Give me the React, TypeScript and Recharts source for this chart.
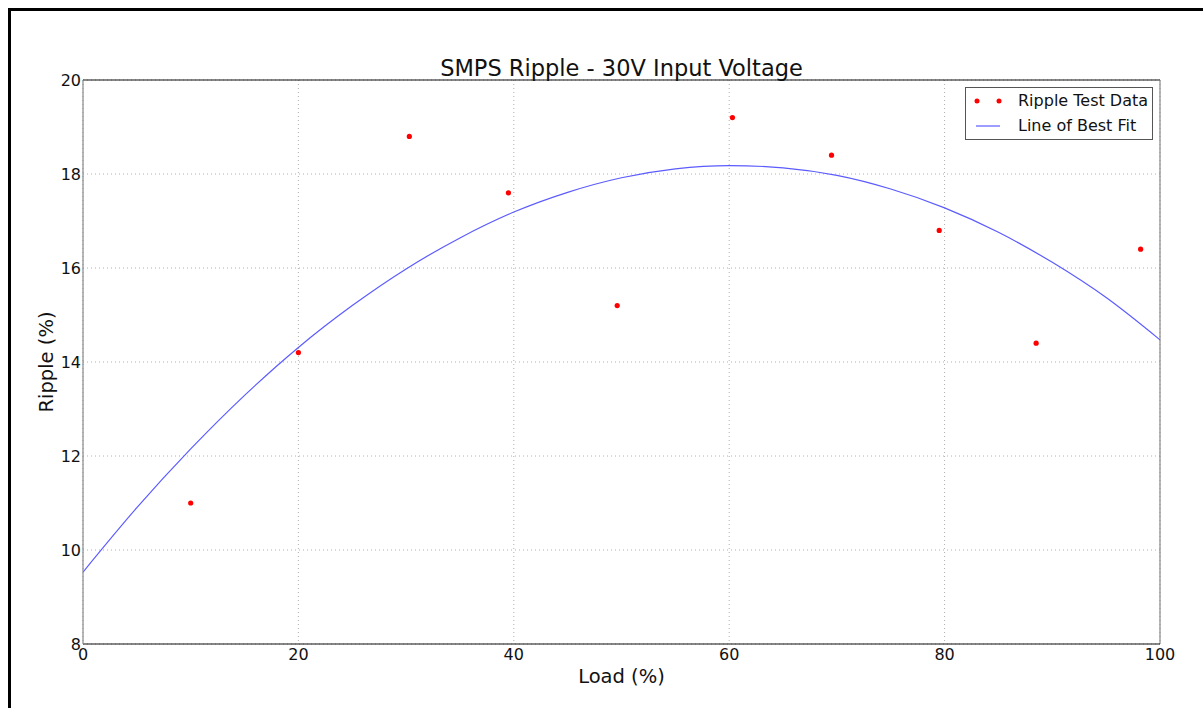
import React from "react";
import {
  ComposedChart,
  Line,
  Scatter,
  XAxis,
  YAxis,
  CartesianGrid,
  ReferenceLine,
} from "recharts";

// measured ripple test points (load %, ripple %)
const testLoad = [10, 20, 30.3, 39.5, 49.6, 60.3, 69.5, 79.5, 88.5, 98.2];
const testRipple = [11.0, 14.2, 18.8, 17.6, 15.2, 19.2, 18.4, 16.8, 14.4, 16.4];

// best-fit curve, every 5%
const fitLoad = [0, 5, 10, 15, 20, 25, 30, 35, 40, 45, 50, 55, 60, 65, 70, 75, 80, 85, 90, 95, 100];
const fitRipple = [
  9.53, 10.9, 12.15, 13.29, 14.31, 15.2, 15.98, 16.64, 17.19, 17.61, 17.92,
  18.11, 18.18, 18.13, 17.97, 17.68, 17.28, 16.76, 16.12, 15.37, 14.47,
];

const xTicks = [0, 20, 40, 60, 80, 100];
const yTicks = [8, 10, 12, 14, 16, 18, 20];

const testData = testLoad.map((x, i) => ({ x, y: testRipple[i] }));
const fitData = fitLoad.map((x, i) => ({ x, y: fitRipple[i] }));

const FONT = "'DejaVu Sans', sans-serif";
const LINE_COLOR = "#5b5bff";

const LegendBox = () => (
  <div
    style={{
      position: "absolute",
      left: 965,
      top: 87,
      width: 186,
      height: 51,
      border: "1px solid #555",
      background: "#fff",
      fontFamily: FONT,
      fontSize: 16,
      color: "#111",
    }}
  >
    <svg width={40} height={51} style={{ position: "absolute", left: 0, top: 0 }}>
      <circle cx={11} cy={13} r={2.5} fill="#f00" />
      <circle cx={33} cy={13} r={2.5} fill="#f00" />
      <line x1={10} x2={34} y1={38} y2={38} stroke={LINE_COLOR} strokeWidth={1.2} />
    </svg>
    <div style={{ position: "absolute", left: 52, top: 3, whiteSpace: "nowrap" }}>Ripple Test Data</div>
    <div style={{ position: "absolute", left: 52, top: 28, whiteSpace: "nowrap" }}>Line of Best Fit</div>
  </div>
);

export default function App() {
  return (
    <div style={{ position: "fixed", inset: 0, background: "#fff", overflow: "hidden" }}>
      <div
        style={{
          position: "absolute",
          left: 8,
          top: 8,
          width: 1300,
          height: 800,
          borderTop: "3px solid #000",
          borderLeft: "3px solid #000",
        }}
      />
      <div style={{ position: "absolute", left: 0, top: 0 }}>
        <ComposedChart
          width={1203}
          height={708}
          margin={{ top: 80, right: 43, bottom: 34, left: 53 }}
        >
          <CartesianGrid
            stroke="#b0b0b0"
            strokeDasharray="1 3"
            horizontalValues={yTicks}
            verticalValues={xTicks}
          />
          <XAxis
            dataKey="x"
            type="number"
            domain={[0, 100]}
            ticks={xTicks}
            height={30}
            allowDataOverflow
            axisLine={{ stroke: "#111", strokeWidth: 1.2 }}
            tickLine={false}
            tickSize={0}
            tick={{ fill: "#111", fontSize: 16, fontFamily: FONT }}
            tickMargin={5}
            label={{
              value: "Load (%)",
              position: "insideBottom",
              offset: -9,
              fill: "#111",
              fontSize: 19.5,
              fontFamily: FONT,
            }}
          />
          <YAxis
            type="number"
            domain={[8, 20]}
            ticks={yTicks}
            width={30}
            allowDataOverflow
            axisLine={{ stroke: "#888", strokeWidth: 1.2 }}
            tickLine={false}
            tickSize={0}
            tick={{ fill: "#111", fontSize: 16, fontFamily: FONT }}
            tickMargin={2}
            label={{
              value: "Ripple (%)",
              angle: -90,
              position: "insideLeft",
              offset: -7,
              fill: "#111",
              fontSize: 19.5,
              fontFamily: FONT,
              style: { textAnchor: "middle" },
            }}
          />
          <ReferenceLine y={20} stroke="#111" strokeWidth={1.2} />
          <ReferenceLine x={100} stroke="#888" strokeWidth={1.2} />
          <Line
            data={fitData}
            dataKey="y"
            type="monotone"
            stroke={LINE_COLOR}
            strokeWidth={1.2}
            dot={false}
            activeDot={false}
            isAnimationActive={false}
            name="Line of Best Fit"
          />
          <Scatter
            data={testData}
            dataKey="y"
            fill="#f00"
            isAnimationActive={false}
            name="Ripple Test Data"
            shape={(props: any) => <circle cx={props.cx} cy={props.cy} r={2.6} fill="#f00" />}
          />
        </ComposedChart>
      </div>
      <div
        style={{
          position: "absolute",
          left: 0,
          top: 55,
          width: 1243,
          textAlign: "center",
          fontFamily: FONT,
          fontSize: 22.5,
          color: "#111",
        }}
      >
        SMPS Ripple - 30V Input Voltage
      </div>
      <LegendBox />
    </div>
  );
}
